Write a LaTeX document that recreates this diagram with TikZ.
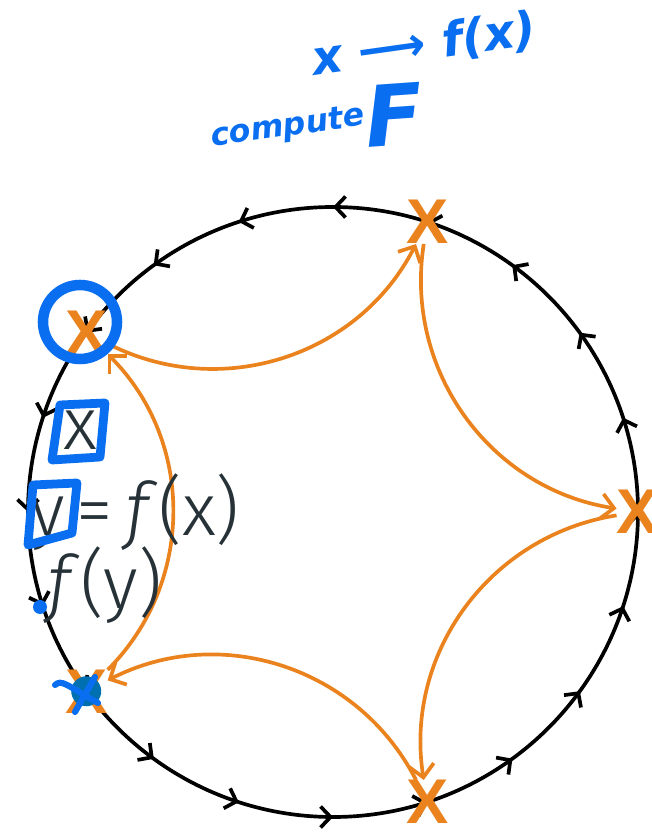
\documentclass[tikz,border=0pt]{standalone}
\usepackage{fontspec}
\setmainfont{Fira Sans}[UprightFont={* Light},ItalicFont={* Light Italic}]
\newfontfamily\cruzfont{Liberation Sans}
\newfontfamily\manofont{DejaVu Sans}
\usetikzlibrary{arrows.meta,positioning,calc,decorations.markings}
\definecolor{naranja}{RGB}{234,130,30}
\definecolor{tinta}{RGB}{38,50,56}
\definecolor{lapiz}{RGB}{10,110,240}
\definecolor{marino}{RGB}{0,112,176}

\begin{document}
\begin{tikzpicture}[x=0.02cm,y=0.02cm,
cruz/.style={text=naranja,font=\fontsize{36}{36}\selectfont\cruzfont\bfseries,inner sep=0pt},
orarr/.style={naranja,line width=2.1pt,-{Straight Barb[length=2.5mm,width=5mm]},bend right=45},
ring/.style={line width=2.1pt,postaction={decorate},
  decoration={markings,mark=between positions 0 and 0.99 step 0.05 with {\arrow{Straight Barb[length=2mm,width=4.2mm]}}}},
nota/.style={text=tinta,font=\fontsize{42}{42}\selectfont,inner sep=0pt},
mano/.style={text=lapiz,font=\manofont\bfseries\itshape,inner sep=0pt},
trazo/.style={lapiz,line width=5pt,line cap=round,line join=round}
]
\useasboundingbox (0,0) rectangle (652,835);
\coordinate (c) at (333,323);
% circle with direction marks
\draw[ring] (c) circle (305);
% the five marked points
\foreach \k in {0,...,4}
  \node[cruz] (a\k) at ($(c)+(\k*72:305)$) {X};
% orange jumps
\draw[orarr] (a2) to (a1);
\draw[orarr] (a1) to (a0);
\draw[orarr] (a0) to (a4);
\draw[orarr] (a4) to (a3);
\draw[orarr] (a3) to (a2);
% texts
\node[nota] (xa) at (80,405) {x};
\node[nota] (yf) at (135,323) {y\,=\,\textit{f}(x)};
\node[nota] (fy) at (105,250) {\textit{f}(y)};
% blue marks
\draw[trazo,line width=6pt] (80,513) circle (37);
\draw[trazo] (60,430) -- (105,432) -- (100,378) -- (52,375) -- cycle;
\draw[trazo] (33,350) -- (77,352) -- (72,302) -- (28,290) -- cycle;
\fill[lapiz] (40,228) circle (7);
\fill[marino] (a3) circle (15);
\draw[trazo,line width=3.5pt] (55,150) .. controls (62,156) and (66,150) .. (98,132);
\draw[trazo,line width=3.5pt] (95,158) -- (75,123);
\node[mano,font=\manofont\bfseries\itshape\fontsize{27}{27}\selectfont,rotate=8] (fx) at (424,790) {x ⟶ f(x)};
\node[mano,font=\manofont\bfseries\itshape\fontsize{18}{18}\selectfont,rotate=8] (cm) at (288,707) {compute};
\node[mano,font=\manofont\bfseries\itshape\fontsize{48}{48}\selectfont,right=0 of cm.east,anchor=west,rotate=4] (F) {F};
\end{tikzpicture}
\end{document}
